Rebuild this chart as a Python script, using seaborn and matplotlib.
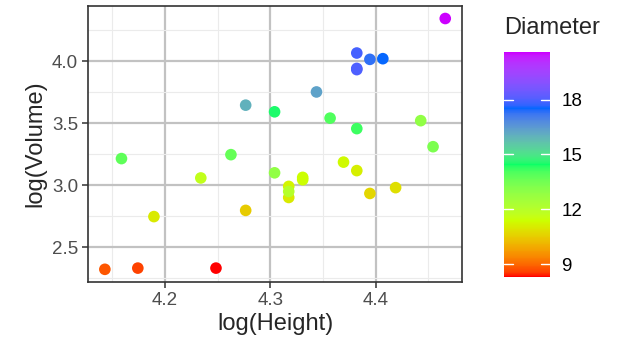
import numpy as np
import pandas as pd
import matplotlib
matplotlib.use("Agg")
import matplotlib.pyplot as plt
import seaborn as sns
from matplotlib.colors import ListedColormap, Normalize, to_rgb
from matplotlib.cm import ScalarMappable

# trees data
girth = [8.3, 8.6, 8.8, 10.5, 10.7, 10.8, 11.0, 11.0, 11.1, 11.2, 11.3, 11.4, 11.4,
         11.7, 12.0, 12.9, 12.9, 13.3, 13.7, 13.8, 14.0, 14.2, 14.5, 16.0, 16.3,
         17.3, 17.5, 17.9, 18.0, 18.0, 20.6]
height = [70, 65, 63, 72, 81, 83, 66, 75, 80, 75, 79, 76, 76, 69, 75, 74, 85, 86,
          71, 64, 78, 80, 74, 72, 77, 81, 82, 80, 80, 80, 87]
volume = [10.3, 10.3, 10.2, 16.4, 18.8, 19.7, 15.6, 18.2, 22.6, 19.9, 24.2, 21.0,
          21.4, 21.3, 19.1, 22.2, 33.8, 27.4, 25.7, 24.9, 34.5, 31.7, 36.3, 38.3,
          42.6, 55.4, 55.7, 58.3, 51.5, 51.0, 77.0]
x_ticks = [4.2, 4.3, 4.4]
y_ticks = [2.5, 3.0, 3.5, 4.0]
cbar_ticks = [9, 12, 15, 18]
gradient_colours = ["#FF0000", "#CCFF00", "#00FF66", "#0066FF", "#CC00FF"]

df = pd.DataFrame({"logH": np.log(height), "logV": np.log(volume), "Diameter": girth})


# --- gradient interpolated in CIE Lab (like ggplot's gradientn) ---
def srgb_to_lab(rgb):
    rgb = np.asarray(rgb, float)
    lin = np.where(rgb <= 0.04045, rgb / 12.92, ((rgb + 0.055) / 1.055) ** 2.4)
    M = np.array([[0.4124, 0.3576, 0.1805], [0.2126, 0.7152, 0.0722], [0.0193, 0.1192, 0.9505]])
    xyz = lin @ M.T / np.array([0.95047, 1.0, 1.08883])
    f = np.where(xyz > 0.008856, np.cbrt(xyz), 7.787 * xyz + 16 / 116)
    return np.stack([116 * f[..., 1] - 16, 500 * (f[..., 0] - f[..., 1]),
                     200 * (f[..., 1] - f[..., 2])], -1)


def lab_to_srgb(lab):
    L, a, b = lab[..., 0], lab[..., 1], lab[..., 2]
    fy = (L + 16) / 116
    fx = fy + a / 500
    fz = fy - b / 200
    f = np.stack([fx, fy, fz], -1)
    xyz = np.where(f ** 3 > 0.008856, f ** 3, (f - 16 / 116) / 7.787)
    xyz = xyz * np.array([0.95047, 1.0, 1.08883])
    Minv = np.linalg.inv(np.array([[0.4124, 0.3576, 0.1805], [0.2126, 0.7152, 0.0722],
                                   [0.0193, 0.1192, 0.9505]]))
    lin = np.clip(xyz @ Minv.T, 0, 1)
    rgb = np.where(lin <= 0.0031308, 12.92 * lin, 1.055 * lin ** (1 / 2.4) - 0.055)
    return np.clip(rgb, 0, 1)


stops = np.linspace(0, 1, len(gradient_colours))
labs = srgb_to_lab([to_rgb(c) for c in gradient_colours])
pos = np.linspace(0, 1, 256)
lab_interp = np.stack([np.interp(pos, stops, labs[:, k]) for k in range(3)], -1)
cmap = ListedColormap(lab_to_srgb(lab_interp))

vmin, vmax = min(girth), max(girth)
norm = Normalize(vmin, vmax)

sns.set_style("white")
plt.rcParams["font.family"] = ["Liberation Sans", "DejaVu Sans"]

fig = plt.figure(figsize=(6.23, 3.51), dpi=100)
ax = fig.add_axes([0.141, 0.197, 0.601, 0.786])

sns.scatterplot(data=df, x="logH", y="logV", hue="Diameter", palette=cmap,
                hue_norm=norm, s=70, linewidth=0, legend=False, ax=ax, zorder=3)

xr = df.logH.max() - df.logH.min()
yr = df.logV.max() - df.logV.min()
ax.set_xlim(df.logH.min() - 0.05 * xr, df.logH.max() + 0.05 * xr)
ax.set_ylim(df.logV.min() - 0.05 * yr, df.logV.max() + 0.05 * yr)
ax.set_xticks(x_ticks)
ax.set_yticks(y_ticks)
ax.set_xticklabels([f"{t:.1f}" for t in x_ticks])
ax.set_yticklabels([f"{t:.1f}" for t in y_ticks])
ax.set_xticks([4.15, 4.25, 4.35, 4.45], minor=True)
ax.set_yticks([2.25, 2.75, 3.25, 3.75, 4.25], minor=True)
ax.grid(True, which="major", color="#C2C2C2", linewidth=1.6, zorder=0)
ax.grid(True, which="minor", color="#EBEBEB", linewidth=0.8, zorder=0)
ax.set_axisbelow(True)
ax.tick_params(which="major", length=4, width=1.1, color="#333333",
               labelsize=13.5, labelcolor="#4D4D4D", pad=3, bottom=True, left=True)
ax.tick_params(which="minor", length=0)
for sp in ax.spines.values():
    sp.set_color("#333333")
    sp.set_linewidth(1.2)
ax.set_xlabel("log(Height)", fontsize=17, labelpad=3)
ax.set_ylabel("log(Volume)", fontsize=17, labelpad=4)

cax = fig.add_axes([0.809, 0.211, 0.074, 0.641])
sm = ScalarMappable(norm=norm, cmap=cmap)
cb = fig.colorbar(sm, cax=cax, ticks=cbar_ticks)
cb.outline.set_visible(False)
cax.tick_params(length=0, labelsize=13.5, labelcolor="black", pad=8)
for t in cbar_ticks:
    cax.plot([0, 0.2], [t, t], color="white", lw=1, transform=cax.get_yaxis_transform())
    cax.plot([0.8, 1.0], [t, t], color="white", lw=1, transform=cax.get_yaxis_transform())
fig.text(0.809, 0.92, "Diameter", fontsize=17, ha="left", va="center")

fig.savefig("out.png", dpi=100)
